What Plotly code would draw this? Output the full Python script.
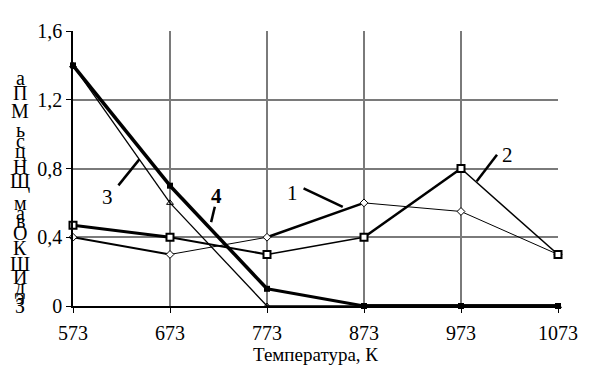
import plotly.graph_objects as go

temps = [573, 673, 773, 873, 973, 1073]
series1 = [0.4, 0.3, 0.4, 0.6, 0.55, 0.3]
series2 = [0.47, 0.4, 0.3, 0.4, 0.8, 0.3]
series3 = [1.4, 0.6, 0.0, 0.0, 0.0, 0.0]
series4 = [1.4, 0.7, 0.1, 0.0, 0.0, 0.0]
ytick_vals = [0, 0.4, 0.8, 1.2, 1.6]
ytick_text = ["0", "0,4", "0,8", "1,2", "1,6"]
x_title = "Температура, К"
y_letters = ["а", "П", "М", "ь", "с", "ц", "Н", "Щ", "м", "а", "в", "О", "К", "Ш", "И", "д", "э", "З"]
y_letter_px = [70, 85, 104, 124, 135, 146, 162, 177, 199, 210, 218, 230, 246, 262, 276, 287, 297, 306]

FONT = "Liberation Serif, Times New Roman, serif"
fig = go.Figure()

def add_series(vals, seg_widths, marker):
    for i in range(len(temps) - 1):
        fig.add_trace(go.Scatter(x=temps[i:i + 2], y=vals[i:i + 2], mode="lines",
                                 line=dict(color="black", width=seg_widths[i]),
                                 showlegend=False, hoverinfo="skip"))
    fig.add_trace(go.Scatter(x=temps, y=vals, mode="markers", marker=marker,
                             showlegend=False, cliponaxis=False))

add_series(series3, [1.3, 1.3, 1.3, 3.5, 3.5], dict(symbol="triangle-up-open", size=6, color="black", line=dict(width=1)))
add_series(series4, [3.5, 3.5, 3, 3.5, 3.5], dict(symbol="square", size=6, color="black"))
add_series(series1, [2, 1, 2.5, 1, 1], dict(symbol="diamond", size=6, color="white", line=dict(color="black", width=1)))
add_series(series2, [3, 2, 1.6, 2.5, 1.5], dict(symbol="square", size=7, color="white", line=dict(color="black", width=2)))

# series number labels with leader lines
labels = [
    ("1", 799, 0.66, False, (810.7, 0.685), (851.1, 0.577)),
    ("2", 1020.5, 0.876, False, (1010.1, 0.880), (989.2, 0.726)),
    ("3", 608.7, 0.633, False, (619.8, 0.702), (641.4, 0.853)),
    ("4", 720.8, 0.64, True, (719.2, 0.577), (715.4, 0.488)),
]
for txt, tx, ty, bold, p0, p1 in labels:
    fig.add_annotation(x=tx, y=ty, xref="x", yref="y", text=f"<b>{txt}</b>" if bold else txt,
                       showarrow=False, font=dict(family=FONT, size=21, color="black"))
    fig.add_shape(type="line", xref="x", yref="y", x0=p0[0], y0=p0[1], x1=p1[0], y1=p1[1],
                  line=dict(color="black", width=2.5))

# stacked y-axis title letters
for ch, py in zip(y_letters, y_letter_px):
    fig.add_annotation(x=-0.109, y=(306 - py) / 285, xref="paper", yref="paper", text=ch,
                       showarrow=False, font=dict(family=FONT, size=20, color="black"),
                       xanchor="center", yanchor="middle")

# x-axis title
fig.add_annotation(x=0.5, y=(306 - 356) / 285, xref="paper", yref="paper", text=x_title,
                   showarrow=False, font=dict(family=FONT, size=19, color="black"),
                   xanchor="center", yanchor="middle")

# the page body adds an 8px offset, so the figure is sized 8px smaller
fig.update_layout(
    width=582, height=357,
    margin=dict(l=65, r=22, t=13, b=59),
    plot_bgcolor="white", paper_bgcolor="white",
    font=dict(family=FONT, size=20, color="black"),
    xaxis=dict(range=[573, 1073], tickvals=temps, ticktext=[str(t) for t in temps],
               tickfont=dict(family=FONT, size=20, color="black"),
               showgrid=True, gridcolor="#7a7a7a", gridwidth=1.5,
               showline=True, linecolor="black", linewidth=1.5,
               ticks="outside", ticklen=5, tickcolor="black",
               ticklabelstandoff=3,
               zeroline=False),
    yaxis=dict(range=[0, 1.6], tickvals=ytick_vals, ticktext=ytick_text,
               tickfont=dict(family=FONT, size=20, color="black"),
               showgrid=True, gridcolor="#7a7a7a", gridwidth=1.5,
               showline=True, linecolor="black", linewidth=1.5,
               ticks="outside", ticklen=5, tickcolor="black",
               zeroline=False),
)

fig.write_html("out.html")
